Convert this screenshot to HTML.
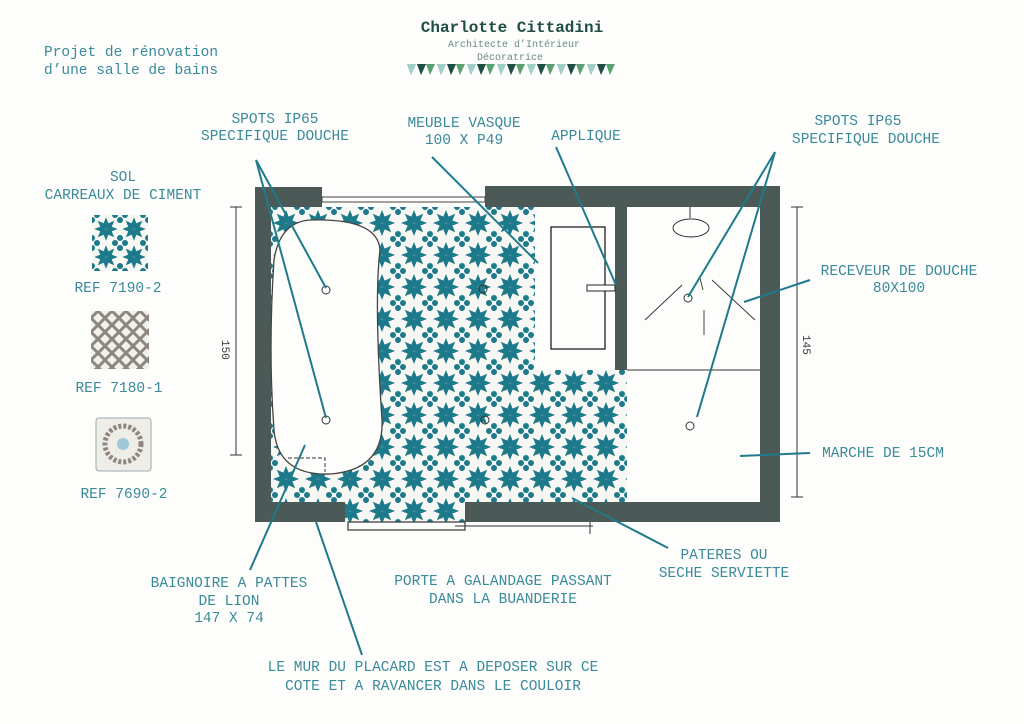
<!DOCTYPE html>
<html><head><meta charset="utf-8"><style>
html,body{margin:0;padding:0;background:#fdfdfc;}
svg{display:block}
text{font-family:"Liberation Mono",monospace;}
</style></head><body>
<svg width="1024" height="724" viewBox="0 0 1024 724" xmlns="http://www.w3.org/2000/svg">
<defs>
<g id="star">
  <g fill="#1d7a8a">
    <path d="M0,0 L-2.8,-6 L0,-13 L2.8,-6Z"/>
    <path d="M0,0 L-2.8,-6 L0,-13 L2.8,-6Z" transform="rotate(45)"/>
    <path d="M0,0 L-2.8,-6 L0,-13 L2.8,-6Z" transform="rotate(90)"/>
    <path d="M0,0 L-2.8,-6 L0,-13 L2.8,-6Z" transform="rotate(135)"/>
    <path d="M0,0 L-2.8,-6 L0,-13 L2.8,-6Z" transform="rotate(180)"/>
    <path d="M0,0 L-2.8,-6 L0,-13 L2.8,-6Z" transform="rotate(225)"/>
    <path d="M0,0 L-2.8,-6 L0,-13 L2.8,-6Z" transform="rotate(270)"/>
    <path d="M0,0 L-2.8,-6 L0,-13 L2.8,-6Z" transform="rotate(315)"/>
  </g>
</g>
<g id="flower" fill="#1d7a8a">
  <circle cx="0" cy="-5" r="3"/><circle cx="0" cy="5" r="3"/><circle cx="-5" cy="0" r="3"/><circle cx="5" cy="0" r="3"/>
  <circle cx="0" cy="0" r="1.5" fill="#fff"/>
</g>
<pattern id="tile" width="32" height="32" patternUnits="userSpaceOnUse" x="270" y="207">
  <rect width="32" height="32" fill="#f7f8f3"/>
  <use href="#star" x="16" y="16"/>
  <use href="#flower" x="0" y="0"/><use href="#flower" x="32" y="0"/><use href="#flower" x="0" y="32"/><use href="#flower" x="32" y="32"/>
</pattern>
<pattern id="tile2" width="28" height="28" patternUnits="userSpaceOnUse" x="92" y="215">
  <rect width="28" height="28" fill="#f7f8f3"/>
  <use href="#star" x="14" y="14" transform="translate(14 14) scale(0.9) translate(-14 -14)"/>
  <use href="#flower" x="0" y="0"/><use href="#flower" x="28" y="0"/><use href="#flower" x="0" y="28"/><use href="#flower" x="28" y="28"/>
</pattern>
<pattern id="grey" width="14" height="14" patternUnits="userSpaceOnUse" x="91" y="311">
  <rect width="14" height="14" fill="#f3f1ee"/>
  <path d="M0,7 L7,0 L14,7 L7,14Z" fill="none" stroke="#8d8680" stroke-width="3"/>
</pattern>
</defs>

<!-- header -->
<text x="512" y="32" text-anchor="middle" font-size="16" font-weight="bold" fill="#1e4d44">Charlotte Cittadini</text>
<text x="514" y="47" text-anchor="middle" font-size="10" fill="#6a8a84">Architecte d’Intérieur</text>
<text x="510" y="60" text-anchor="middle" font-size="10" fill="#6a8a84">Décoratrice</text>
<g>
  <path d="M407,64h9l-5,11zM417,64h9l-5,11zM426,64h9l-5,11zM437,64h9l-5,11zM447,64h9l-5,11zM456,64h9l-5,11zM467,64h9l-5,11zM477,64h9l-5,11zM486,64h9l-5,11zM497,64h9l-5,11zM507,64h9l-5,11zM516,64h9l-5,11zM527,64h9l-5,11zM537,64h9l-5,11zM546,64h9l-5,11zM557,64h9l-5,11zM567,64h9l-5,11zM576,64h9l-5,11zM587,64h9l-5,11zM597,64h9l-5,11zM606,64h9l-5,11z" fill="#5aa070"/>
  <path d="M417,64h9l-5,11zM447,64h9l-5,11zM477,64h9l-5,11zM507,64h9l-5,11zM537,64h9l-5,11zM567,64h9l-5,11zM597,64h9l-5,11z" fill="#1e4d44"/>
  <path d="M407,64h9l-5,11zM437,64h9l-5,11zM467,64h9l-5,11zM497,64h9l-5,11zM527,64h9l-5,11zM557,64h9l-5,11zM587,64h9l-5,11z" fill="#9ecfc8"/>
</g>
<text x="44" y="56" font-size="14.5" fill="#3a8a9a">Projet de rénovation</text>
<text x="44" y="74" font-size="14.5" fill="#3a8a9a">d’une salle de bains</text>

<!-- legend -->
<text x="123" y="181" text-anchor="middle" font-size="14.5" fill="#3a8a9a">SOL</text>
<text x="123" y="199" text-anchor="middle" font-size="14.5" fill="#3a8a9a">CARREAUX DE CIMENT</text>
<rect x="92" y="215" width="56" height="56" fill="url(#tile2)"/>
<text x="118" y="292" text-anchor="middle" font-size="14.5" fill="#3a8a9a">REF 7190-2</text>
<rect x="91" y="311" width="58" height="58" fill="url(#grey)"/>
<text x="119" y="392" text-anchor="middle" font-size="14.5" fill="#3a8a9a">REF 7180-1</text>
<rect x="96" y="418" width="55" height="53" rx="3" fill="#efede8" stroke="#9aa" stroke-width="1"/>
<circle cx="123" cy="444" r="18" fill="none" stroke="#8d8680" stroke-width="5" stroke-dasharray="3 2"/>
<circle cx="123" cy="444" r="6" fill="#9fc8d6"/>
<text x="124" y="498" text-anchor="middle" font-size="14.5" fill="#3a8a9a">REF  7690-2</text>

<!-- floor -->
<rect x="270" y="207" width="265" height="163" fill="url(#tile)"/>
<rect x="270" y="370" width="357" height="132" fill="url(#tile)"/>
<rect x="345" y="500" width="120" height="22" fill="url(#tile)"/>
<rect x="535" y="207" width="80" height="163" fill="#fdfdfc"/>
<rect x="627" y="207" width="133" height="295" fill="#fdfdfc"/>
<!-- walls -->
<g fill="#4b5a56">
  <rect x="255" y="187" width="67" height="20"/>
  <rect x="485" y="186" width="295" height="21"/>
  <rect x="255" y="187" width="16" height="335"/>
  <rect x="255" y="502" width="90" height="20"/>
  <rect x="465" y="502" width="315" height="20"/>
  <rect x="760" y="186" width="20" height="336"/>
  <rect x="615" y="207" width="12" height="163"/>
</g>
<!-- window -->
<rect x="322" y="197" width="163" height="5" fill="none" stroke="#444" stroke-width="1"/>
<!-- door -->
<rect x="348" y="522" width="117" height="8" fill="none" stroke="#333" stroke-width="1.2"/>
<path d="M455,526 H593 M590,522 V534" stroke="#333" stroke-width="1" fill="none"/>
<!-- bathtub -->
<path d="M310,220 Q378,218 380,250 Q374,300 382,420 Q384,470 330,474 Q278,476 274,430 Q268,350 274,260 Q280,222 310,220Z" fill="#fdfdfc" stroke="#444" stroke-width="1.3"/>
<path d="M288,458 H325 V472" stroke="#333" stroke-dasharray="4 2" fill="none"/>
<!-- vanity -->
<rect x="551" y="227" width="54" height="122" fill="none" stroke="#222" stroke-width="1.3"/>
<rect x="587" y="285" width="28" height="6" fill="#fff" stroke="#222"/>
<!-- shower -->
<line x1="627" y1="370" x2="760" y2="370" stroke="#333"/>
<line x1="690" y1="207" x2="690" y2="218" stroke="#333"/>
<ellipse cx="691" cy="228" rx="18" ry="9" fill="none" stroke="#333"/>
<path d="M662,285 L625,320 M680,278 L683,290 M692,280 L735,320 M684,310 V335" stroke="#333" fill="none" stroke-width="0.9" transform="translate(20 0)"/>
<!-- dims -->
<path d="M236,207 V455 M230,207 H242 M230,455 H242" stroke="#333" fill="none"/>
<text x="222" y="340" font-size="11" fill="#333" transform="rotate(90 222 340)">150</text>
<path d="M797,207 V497 M791,207 H803 M791,497 H803" stroke="#333" fill="none"/>
<text x="803" y="335" font-size="11" fill="#333" transform="rotate(90 803 335)">145</text>
<!-- spots -->
<g fill="none" stroke="#333" stroke-width="1">
 <circle cx="326" cy="290" r="4"/><circle cx="326" cy="420" r="4"/><circle cx="483" cy="289" r="4"/><circle cx="485" cy="420" r="4"/><circle cx="688" cy="298" r="4"/><circle cx="690" cy="426" r="4"/>
</g>
<!-- leaders -->
<g stroke="#1f7a8c" stroke-width="2" fill="none">
 <path d="M256,160 L326,288 M256,160 L326,418"/>
 <path d="M432,157 L538,263"/>
 <path d="M556,147 L616,285"/>
 <path d="M775,152 L688,297 M775,152 L697,417"/>
 <path d="M810,280 L744,302"/>
 <path d="M810,453 L740,456"/>
 <path d="M572,498 L668,548"/>
 <path d="M305,445 L250,570"/>
 <path d="M316,522 L362,655"/>
</g>
<!-- labels -->
<g font-size="14.5" fill="#3a8a9a" text-anchor="middle">
 <text x="275" y="123">SPOTS IP65</text><text x="275" y="140">SPECIFIQUE DOUCHE</text>
 <text x="464" y="127">MEUBLE VASQUE</text><text x="464" y="144">100 X P49</text>
 <text x="586" y="140">APPLIQUE</text>
 <text x="858" y="125">SPOTS IP65</text><text x="866" y="143">SPECIFIQUE DOUCHE</text>
 <text x="899" y="275">RECEVEUR DE DOUCHE</text><text x="899" y="292">80X100</text>
 <text x="883" y="457">MARCHE DE 15CM</text>
 <text x="724" y="559">PATERES OU</text><text x="724" y="577">SECHE SERVIETTE</text>
 <text x="229" y="587">BAIGNOIRE A PATTES</text><text x="229" y="605">DE LION</text><text x="229" y="622">147 X 74</text>
 <text x="503" y="585">PORTE A GALANDAGE PASSANT</text><text x="503" y="603">DANS LA BUANDERIE</text>
 <text x="433" y="671">LE MUR DU PLACARD EST A DEPOSER SUR CE</text><text x="433" y="690">COTE ET A RAVANCER DANS LE COULOIR</text>
</g>
</svg>
</body></html>
